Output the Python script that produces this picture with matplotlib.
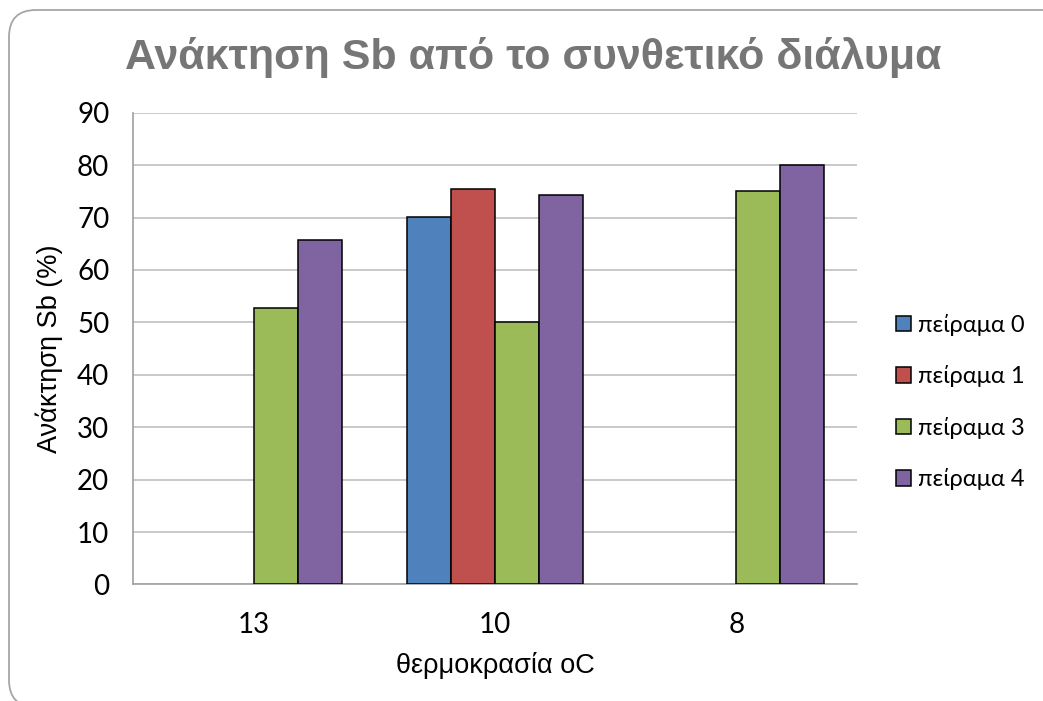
import numpy as np
import matplotlib
matplotlib.use("Agg")
import matplotlib.pyplot as plt
from matplotlib.patches import FancyBboxPatch, Patch
from matplotlib.transforms import IdentityTransform

# data
categories = ["13", "10", "8"]
series_names = ["πείραμα 0", "πείραμα 1", "πείραμα 3", "πείραμα 4"]
exp0 = [np.nan, 70.2, np.nan]
exp1 = [np.nan, 75.4, np.nan]
exp3 = [52.8, 50.0, 75.0]
exp4 = [65.7, 74.3, 80.0]
colors = ["#4F81BD", "#C0504D", "#9BBB59", "#8064A2"]

fig = plt.figure(figsize=(10.43, 7.01), dpi=100)

# rounded chart border in pixels (runs off the right and bottom edges)
border = FancyBboxPatch((9, -6), 1100, 697,
                        boxstyle="round,pad=0,rounding_size=27",
                        transform=IdentityTransform(), fill=False,
                        edgecolor="#A6A6A6", linewidth=1.3)
fig.patches.append(border)

ax = fig.add_axes([0.1275, 0.1662, 0.8217 - 0.1275, 0.8392 - 0.1662])

x = np.arange(len(categories))
width = 0.1824
for i, (vals, name, col) in enumerate(zip([exp0, exp1, exp3, exp4], series_names, colors)):
    vals = np.array(vals, dtype=float)
    mask = ~np.isnan(vals)
    ax.bar(x[mask] + (i - 1.5) * width, vals[mask], width=width, color=col,
           edgecolor="black", linewidth=1.1, zorder=3)

ax.set_xlim(-0.5, len(categories) - 0.5)
ax.set_ylim(0, 90)
ax.set_yticks(np.arange(0, 91, 10))
ax.set_xticks(x)
ax.set_xticklabels(categories)
ax.yaxis.grid(True, color="#C0C0C0", linewidth=1.2, zorder=0)
ax.set_axisbelow(True)
for s in ["top", "right"]:
    ax.spines[s].set_visible(False)
ax.spines["left"].set_color("#A0A0A0")
ax.spines["bottom"].set_color("#A0A0A0")
ax.spines["left"].set_linewidth(1.2)
ax.spines["bottom"].set_linewidth(1.2)
ax.tick_params(axis="both", length=0, labelsize=20, colors="black")
ax.tick_params(axis="x", pad=20)
ax.tick_params(axis="y", pad=17)
for lab in ax.get_xticklabels() + ax.get_yticklabels():
    lab.set_family(["Lato", "DejaVu Sans"])

ax.set_ylabel("Ανάκτηση Sb (%)", fontsize=19.5, family="Liberation Sans", labelpad=10)
ax.set_xlabel("θερμοκρασία oC", fontsize=19.5, family="Liberation Sans", labelpad=10)

fig.text(0.5115, 0.918, "Ανάκτηση Sb από το συνθετικό διάλυμα", ha="center", va="center",
         fontsize=31, fontweight="bold", color="#767676", family="Liberation Sans")

handles = [Patch(facecolor=c, edgecolor="black", linewidth=1.1) for c in colors]
fig.legend(handles, series_names, loc="center left", bbox_to_anchor=(0.8386, 0.4265),
           frameon=False, prop={"family": ["Lato", "Noto Sans"], "size": 17},
           handlelength=0.65, handleheight=0.65, handletextpad=0.3, labelspacing=1.25)

fig.savefig("out.png", dpi=100)
